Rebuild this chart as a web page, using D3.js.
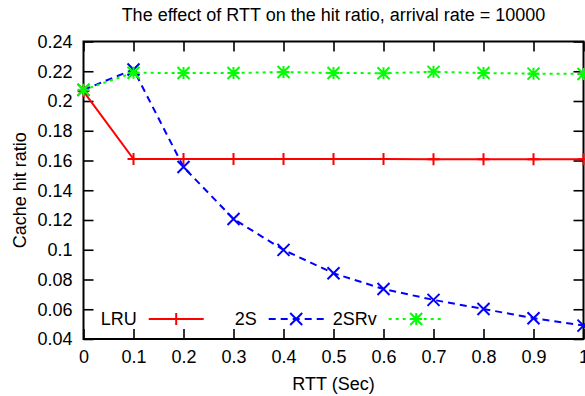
<!DOCTYPE html>
<html>
<head>
<meta charset="utf-8">
<script src="https://cdn.jsdelivr.net/npm/d3@7"></script>
<style>
  html, body { margin: 0; padding: 0; background: #fff; }
  svg { display: block; font-family: "Liberation Sans", Arial, Helvetica, sans-serif; }
</style>
</head>
<body>
<svg id="chart" width="585" height="396"></svg>
<script>
// RTT values (seconds) along the x axis
const rtt = [0, 0.1, 0.2, 0.3, 0.4, 0.5, 0.6, 0.7, 0.8, 0.9, 1.0];

// Cache hit ratio per policy
const lruHit  = [0.2065, 0.161, 0.161, 0.161, 0.161, 0.161, 0.161, 0.1608, 0.1608, 0.1608, 0.1608];
const twoSHit = [0.2075, 0.2212, 0.1556, 0.1207, 0.0999, 0.0842, 0.0736, 0.0663, 0.0602, 0.054, 0.049];
const twoSRvHit = [0.2075, 0.219, 0.2188, 0.2188, 0.2195, 0.2188, 0.2187, 0.2196, 0.2188, 0.2184, 0.2182];

const seriesNames = ["LRU", "2S", "2SRv"];

// Axis ticks
const xTicks = [0, 0.1, 0.2, 0.3, 0.4, 0.5, 0.6, 0.7, 0.8, 0.9, 1.0];
const xTickLabels = ["0", "0.1", "0.2", "0.3", "0.4", "0.5", "0.6", "0.7", "0.8", "0.9", "1"];
const yTicks = [0.04, 0.06, 0.08, 0.1, 0.12, 0.14, 0.16, 0.18, 0.2, 0.22, 0.24];
const yTickLabels = ["0.04", "0.06", "0.08", "0.1", "0.12", "0.14", "0.16", "0.18", "0.2", "0.22", "0.24"];

const titleText = "The effect of RTT on the hit ratio, arrival rate = 10000";
const xLabel = "RTT (Sec)";
const yLabel = "Cache hit ratio";

const svg = d3.select("#chart");
const plotLeft = 83.5, plotRight = 583.5, plotTop = 41.5, plotBottom = 339;

const x = d3.scaleLinear().domain([0, 1]).range([plotLeft, plotRight]);
const y = d3.scaleLinear().domain([0.04, 0.24]).range([plotBottom, plotTop]);

const fontSize = 18;
const tickLen = 10;

// Axes with inward ticks on all four sides
const axisL = d3.axisLeft(y).tickValues(yTicks)
  .tickFormat((d, i) => yTickLabels[i])
  .tickSizeInner(-tickLen).tickSizeOuter(0).tickPadding(11);
const axisR = d3.axisRight(y).tickValues(yTicks)
  .tickFormat("").tickSizeInner(-tickLen).tickSizeOuter(0);
const axisB = d3.axisBottom(x).tickValues(xTicks)
  .tickFormat((d, i) => xTickLabels[i])
  .tickSizeInner(-tickLen).tickSizeOuter(0).tickPadding(11);
const axisT = d3.axisTop(x).tickValues(xTicks)
  .tickFormat("").tickSizeInner(-tickLen).tickSizeOuter(0);

function styleAxis(g) {
  g.select(".domain").remove();
  g.selectAll(".tick line").attr("stroke", "#000").attr("stroke-width", 1.6);
  g.selectAll(".tick text").attr("fill", "#000")
    .style("font-size", fontSize + "px")
    .style("font-family", '"Liberation Sans", Arial, sans-serif');
}

svg.append("g").attr("transform", `translate(${plotLeft},0)`).call(axisL).call(styleAxis);
svg.append("g").attr("transform", `translate(${plotRight},0)`).call(axisR).call(styleAxis);
svg.append("g").attr("transform", `translate(0,${plotBottom})`).call(axisB).call(styleAxis);
svg.append("g").attr("transform", `translate(0,${plotTop})`).call(axisT).call(styleAxis);

// Plot border
svg.append("rect")
  .attr("x", plotLeft).attr("y", plotTop)
  .attr("width", plotRight - plotLeft).attr("height", plotBottom - plotTop)
  .attr("fill", "none").attr("stroke", "#000").attr("stroke-width", 2);

// Title and axis labels
svg.append("text").attr("x", (plotLeft + plotRight) / 2).attr("y", 21)
  .attr("text-anchor", "middle").style("font-size", fontSize + "px").text(titleText);
svg.append("text").attr("x", (plotLeft + plotRight) / 2).attr("y", 390)
  .attr("text-anchor", "middle").style("font-size", fontSize + "px").text(xLabel);
svg.append("text")
  .attr("transform", `translate(26,${(plotTop + plotBottom) / 2}) rotate(-90)`)
  .attr("text-anchor", "middle").style("font-size", fontSize + "px").text(yLabel);

// Marker shapes
const mk = 6;
function plusPath(cx, cy) {
  return `M${cx - mk},${cy}H${cx + mk}M${cx},${cy - mk}V${cy + mk}`;
}
function crossPath(cx, cy) {
  return `M${cx - mk},${cy - mk}L${cx + mk},${cy + mk}M${cx - mk},${cy + mk}L${cx + mk},${cy - mk}`;
}
function starPath(cx, cy) {
  return plusPath(cx, cy) + crossPath(cx, cy);
}

const series = [
  { name: seriesNames[0], values: lruHit, color: "#ff0000", dash: null, marker: plusPath },
  { name: seriesNames[1], values: twoSHit, color: "#0000ff", dash: "7,5", marker: crossPath },
  { name: seriesNames[2], values: twoSRvHit, color: "#00ff00", dash: "3,4", marker: starPath }
];

const line = d3.line().x(d => x(d[0])).y(d => y(d[1]));

series.forEach(s => {
  const pts = rtt.map((r, i) => [r, s.values[i]]);
  svg.append("path").datum(pts)
    .attr("d", line).attr("fill", "none")
    .attr("stroke", s.color).attr("stroke-width", 2)
    .attr("stroke-dasharray", s.dash);
  svg.append("path")
    .attr("d", pts.map(p => s.marker(x(p[0]), y(p[1]))).join(""))
    .attr("fill", "none").attr("stroke", s.color).attr("stroke-width", 2);
});

// Legend along the bottom of the plot
const legendY = 319;
series.forEach((s, i) => {
  const textEnd = 136.7 + i * 120;
  svg.append("text").attr("x", textEnd).attr("y", legendY)
    .attr("dy", "0.35em").attr("text-anchor", "end")
    .style("font-size", fontSize + "px").text(s.name);
  const x0 = textEnd + 12, x1 = textEnd + 67;
  svg.append("path").attr("d", `M${x0},${legendY}H${x1}`)
    .attr("stroke", s.color).attr("stroke-width", 2)
    .attr("stroke-dasharray", s.dash).attr("fill", "none");
  svg.append("path").attr("d", s.marker((x0 + x1) / 2, legendY))
    .attr("stroke", s.color).attr("stroke-width", 2).attr("fill", "none");
});
</script>
</body>
</html>
